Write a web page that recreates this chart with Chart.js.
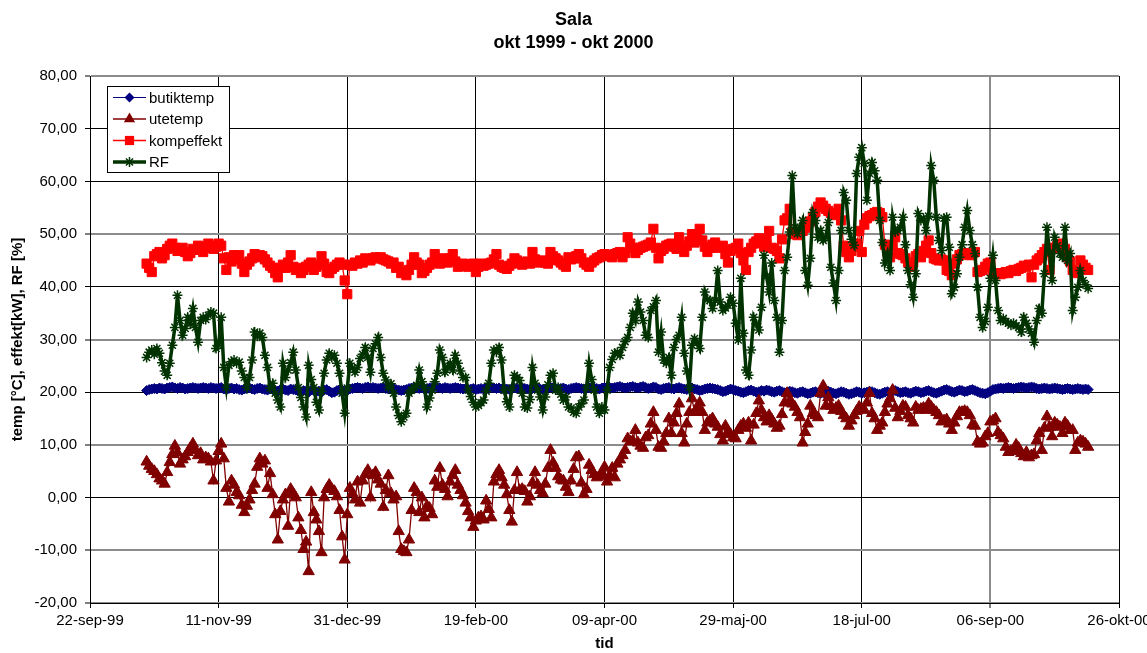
<!DOCTYPE html>
<html>
<head>
<meta charset="utf-8">
<title>Sala okt 1999 - okt 2000</title>
<script src="https://cdn.jsdelivr.net/npm/chart.js@4/dist/chart.umd.min.js"></script>
<style>
  html, body { margin: 0; padding: 0; background: #fff; }
  canvas { display: block; }
</style>
</head>
<body>
<canvas id="chart" width="1147" height="653"></canvas>
<script>
const FONT = '"Liberation Sans", Arial, Helvetica, sans-serif';

const titleLines = ['Sala', 'okt 1999 - okt 2000'];
const xAxisTitle = 'tid';
const yAxisTitle = 'temp [°C], effekt[kW], RF [%]';

// x axis: days counted from 22-sep-99, one tick every 50 days
const xTickLabels = ['22-sep-99', '11-nov-99', '31-dec-99', '19-feb-00', '09-apr-00',
                     '29-maj-00', '18-jul-00', '06-sep-00', '26-okt-00'];
const yTickLabels = ['-20,00', '-10,00', '0,00', '10,00', '20,00', '30,00',
                     '40,00', '50,00', '60,00', '70,00', '80,00'];

// first daily value is 14-okt-99 (day 22 after 22-sep-99), last is 14-okt-00
const firstDay = 22;

const seriesNames = ['butiktemp', 'utetemp', 'kompeffekt', 'RF'];

const butiktemp = [
  20.3, 20.5, 20.6, 20.7, 20.6, 20.8, 20.7, 20.6, 20.8, 20.9,
  21.0, 20.8, 20.7, 20.9, 20.8, 20.6, 20.7, 20.8, 20.9, 20.8,
  20.7, 20.8, 20.9, 20.8, 20.7, 20.9, 20.8, 20.7, 20.8, 20.9,
  20.6, 20.5, 20.7, 20.8, 20.6, 20.7, 20.5, 20.4, 20.6, 20.7,
  20.8, 20.6, 20.5, 20.7, 20.8, 20.6, 20.5, 20.4, 20.6, 20.5,
  20.3, 20.2, 20.5, 20.6, 20.4, 20.3, 20.6, 20.5, 20.4, 20.2,
  20.1, 20.3, 20.2, 20.0, 20.4, 20.3, 20.1, 20.2, 20.0, 20.4,
  20.5, 20.2, 19.9, 20.0, 20.3, 20.5, 20.4, 20.2, 20.3, 20.6,
  20.7, 20.8, 20.9, 20.8, 20.7, 20.9, 21.0, 20.8, 20.9, 20.8,
  20.7, 20.8, 20.9, 20.7, 20.6, 20.8, 20.7, 20.5, 20.4, 20.3,
  20.4, 20.5, 20.7, 20.8, 20.9, 20.8, 20.7, 20.8, 20.6, 20.7,
  20.8, 20.9, 21.0, 20.9, 20.8, 20.7, 20.9, 20.8, 20.7, 20.8,
  20.9, 20.8, 20.7, 20.6, 20.7, 20.5, 20.6, 20.7, 20.5, 20.6,
  20.7, 20.6, 20.8, 20.7, 20.9, 20.8, 20.7, 20.8, 20.6, 20.7,
  20.6, 20.5, 20.7, 20.8, 20.7, 20.6, 20.8, 20.7, 20.6, 20.5,
  20.7, 20.8, 20.7, 20.6, 20.5, 20.6, 20.8, 20.9, 20.8, 20.7,
  20.6, 20.7, 20.8, 20.6, 20.5, 20.7, 20.8, 20.9, 20.8, 20.7,
  20.6, 20.7, 20.8, 20.9, 20.8, 20.7, 20.6, 20.8, 20.9, 21.0,
  20.9, 20.8, 20.9, 21.0, 21.1, 20.9, 20.8, 20.9, 21.0, 21.1,
  20.9, 20.8, 21.0, 21.1, 20.9, 20.7, 20.8, 21.0, 20.9, 20.6,
  20.5, 20.7, 20.8, 20.9, 20.7, 20.6, 20.8, 20.9, 20.7, 20.6,
  20.5, 20.7, 20.8, 20.6, 20.5, 20.3, 20.4, 20.6, 20.7, 20.8,
  20.7, 20.6, 20.5, 20.3, 20.1, 20.2, 20.4, 20.6, 20.5, 20.3,
  20.2, 20.0, 19.9, 20.1, 20.3, 20.4, 20.2, 20.0, 20.1, 20.3,
  20.2, 20.4, 20.3, 20.1, 20.0, 20.2, 20.3, 20.1, 19.9, 20.0,
  20.2, 20.1, 19.9, 19.8, 20.0, 20.1, 19.9, 19.7, 19.8, 20.0,
  20.1, 19.9, 19.8, 19.9, 20.1, 20.2, 20.0, 19.8, 19.7, 19.9,
  20.1, 20.0, 19.8, 19.6, 19.7, 19.9, 20.1, 20.0, 19.8, 19.9,
  20.0, 20.2, 20.1, 19.9, 19.7, 19.6, 19.8, 20.0, 20.1, 19.9,
  20.2, 20.3, 20.1, 19.9, 20.0, 20.1, 19.9, 19.8, 20.0, 20.2,
  20.1, 19.9, 20.0, 20.2, 20.3, 20.1, 19.9, 19.8, 20.0, 20.2,
  20.4, 20.5, 20.3, 20.1, 20.0, 20.2, 20.4, 20.3, 20.1, 20.2,
  20.4, 20.5, 20.3, 20.1, 19.9, 19.8, 19.7, 19.9, 20.2, 20.5,
  20.6, 20.7, 20.8, 20.7, 20.8, 20.9, 20.8, 20.7, 20.8, 20.9,
  21.0, 20.9, 20.8, 20.9, 21.0, 20.9, 20.7, 20.6, 20.7, 20.8,
  20.7, 20.6, 20.7, 20.8, 20.7, 20.6, 20.5, 20.6, 20.7, 20.6,
  20.5, 20.6, 20.7, 20.6, 20.5, 20.6, 20.5
];

const utetemp = [
  6.8, 6.0, 5.4, 5.0, 4.4, 3.6, 3.2, 2.6, 4.8, 6.7,
  8.2, 9.8, 8.5, 6.4, 7.2, 7.8, 8.6, 9.4, 10.2, 9.0,
  8.0, 8.4, 7.2, 7.6, 7.4, 6.8, 3.2, 7.0, 8.8, 10.2,
  7.4, 1.8, -0.8, 3.2, 2.4, 1.0, 0.4, -1.4, -2.8, -1.6,
  -0.4, 1.4, 2.6, 5.8, 7.4, 6.4, 7.0, 1.8, 4.6, 0.6,
  -3.2, -8.0, -2.6, -0.4, 0.6, -5.4, 1.6, 0.8, 0.0, -3.8,
  -6.2, -9.8, -8.4, -14.0, 1.0, -2.8, -4.2, -6.4, -10.4, 0.0,
  1.6, 2.4, 1.6, 1.2, 0.2, -2.4, -7.4, -11.8, -3.2, 1.8,
  0.8, -0.4, 3.0, -1.0, 3.2, 4.4, 5.2, 0.0, 4.2, 4.8,
  3.4, 2.6, -1.8, 1.4, 4.2, 0.8, -0.4, 0.2, -6.4, -9.8,
  -10.2, -10.4, -8.0, -2.4, 1.8, 1.0, -2.8, 0.0, -3.8, -1.6,
  -2.0, -3.2, 3.2, 2.0, 5.6, 2.4, 1.6, 0.2, 3.0, 4.2,
  5.2, 2.4, 1.4, 0.4, -1.0, -2.6, -3.8, -5.6, -4.4, -3.8,
  -3.6, -4.2, -0.6, -2.2, -3.8, 3.0, 4.4, 5.2, 3.8, 2.4,
  0.6, -2.4, -4.6, 1.4, 4.8, 1.4, 1.6, 1.2, -0.8, 0.2,
  2.8, 4.8, 2.4, 1.4, 0.8, 2.6, 5.6, 9.0, 6.6, 5.6,
  4.0, 3.4, 3.2, 2.0, 1.0, 3.2, 5.4, 7.6, 7.8, 2.8,
  0.6, 1.6, 6.2, 5.2, 4.4, 3.8, 4.0, 4.6, 5.8, 3.0,
  4.2, 5.6, 3.8, 6.4, 7.2, 8.0, 9.0, 11.2, 10.6, 10.8,
  12.8, 10.4, 9.8, 9.4, 11.4, 11.8, 14.0, 16.2, 12.8, 9.6,
  9.4, 10.6, 12.2, 15.0, 12.2, 14.2, 16.0, 17.8, 12.2, 10.4,
  14.0, 16.2, 18.8, 16.2, 17.0, 18.0, 16.2, 12.8, 14.2, 14.6,
  15.0, 14.0, 13.4, 12.0, 10.8, 13.6, 12.4, 12.0, 11.4, 11.2,
  12.8, 13.6, 14.0, 13.2, 14.2, 10.8, 13.8, 16.0, 18.4, 16.6,
  15.2, 14.4, 15.6, 14.8, 14.0, 13.2, 13.6, 15.8, 18.0, 19.8,
  18.4, 17.8, 17.2, 16.2, 15.2, 10.4, 12.4, 14.0, 17.4, 16.0,
  15.6, 15.2, 19.8, 21.2, 17.4, 19.0, 17.4, 16.6, 17.0, 17.4,
  16.4, 15.6, 15.0, 13.6, 14.6, 15.6, 16.4, 17.2, 16.8, 16.6,
  18.0, 19.8, 16.0, 15.0, 12.8, 13.6, 14.2, 16.2, 17.8, 18.8,
  20.4, 17.0, 15.2, 16.4, 17.4, 17.2, 15.6, 15.0, 14.2, 17.2,
  16.6, 16.8, 17.0, 16.6, 17.8, 17.2, 16.6, 16.2, 15.6, 14.4,
  14.6, 14.8, 14.0, 12.8, 14.2, 15.4, 16.2, 16.2, 16.4, 16.2,
  15.6, 13.8, 13.6, 10.6, 10.2, 10.4, 11.6, 12.2, 14.4, 14.6,
  15.0, 12.4, 11.8, 11.2, 9.6, 8.6, 8.8, 9.0, 10.0, 9.4,
  8.4, 7.8, 8.6, 7.6, 8.0, 8.2, 10.8, 12.2, 9.0, 13.2,
  15.4, 13.4, 11.6, 14.2, 13.8, 13.4, 12.2, 14.2, 13.6, 12.8,
  12.8, 9.0, 10.4, 10.8, 10.6, 10.2, 9.6
];

const kompeffekt = [
  44.4, 43.6, 42.8, 45.8, 46.2, 46.6, 45.4, 46.0, 47.2, 47.8,
  48.2, 47.4, 46.8, 47.2, 47.4, 46.6, 45.8, 46.4, 47.2, 47.0,
  47.8, 47.6, 46.6, 47.4, 48.2, 47.8, 47.2, 47.6, 48.2, 47.8,
  45.4, 43.2, 45.6, 44.8, 46.0, 45.2, 46.0, 44.4, 42.8, 44.2,
  44.8, 45.4, 46.2, 45.6, 46.0, 45.8, 45.2, 44.6, 44.0, 43.6,
  42.6, 41.8, 43.6, 44.2, 43.6, 44.6, 46.0, 43.8, 43.2, 43.6,
  42.6, 43.2, 43.8, 44.2, 44.6, 43.2, 43.8, 44.2, 45.8, 44.4,
  42.8, 42.6, 43.4, 43.8, 44.2, 44.6, 44.2, 41.2, 38.6, 44.2,
  44.0, 44.6, 44.4, 45.0, 44.6, 45.4, 45.2, 45.0, 45.4, 45.6,
  45.4, 45.6, 45.2, 45.0, 44.8, 44.4, 44.6, 43.6, 43.8, 42.6,
  42.8, 42.2, 43.2, 44.2, 45.6, 44.6, 44.2, 42.6, 43.0, 43.6,
  44.2, 44.6, 46.2, 45.0, 44.4, 45.4, 45.0, 44.6, 45.4, 46.2,
  44.8, 43.8, 44.2, 44.4, 44.0, 43.8, 44.2, 44.4, 42.8, 43.8,
  44.4, 44.0, 44.2, 44.4, 44.6, 45.2, 46.2, 44.2, 43.8, 43.6,
  43.4, 44.0, 44.4, 45.4, 45.0, 44.6, 44.2, 44.6, 44.8, 44.4,
  46.6, 45.2, 44.6, 44.8, 45.0, 44.6, 44.4, 46.6, 45.8, 45.4,
  45.0, 44.6, 44.2, 43.8, 45.6, 45.2, 45.4, 45.8, 46.2, 45.4,
  44.6, 44.2, 43.8, 44.6, 45.0, 45.4, 45.6, 46.0, 46.2, 45.8,
  46.0, 45.6, 46.2, 46.4, 46.6, 45.6, 46.4, 49.4, 48.2, 47.4,
  46.4, 47.0, 47.4, 47.6, 47.8, 48.0, 48.4, 51.0, 47.4, 45.4,
  46.8, 47.2, 47.8, 48.0, 48.2, 47.6, 47.2, 49.4, 47.8, 46.6,
  47.8, 48.6, 50.0, 48.4, 49.6, 51.0, 48.8, 47.6, 46.6, 47.4,
  48.0, 48.4, 47.4, 47.6, 47.8, 46.2, 44.6, 46.8, 47.2, 47.4,
  48.2, 46.4, 45.0, 43.2, 46.6, 47.4, 48.2, 48.6, 49.2, 48.4,
  47.6, 48.8, 50.6, 47.4, 47.2, 46.8, 45.4, 49.0, 52.6, 53.0,
  54.8, 50.4, 50.0, 49.8, 50.2, 50.6, 51.2, 51.6, 52.4, 53.2,
  54.2, 55.2, 56.0, 55.4, 54.8, 54.4, 54.0, 53.8, 53.6, 54.8,
  52.6, 47.8, 46.6, 45.6, 46.8, 47.6, 48.2, 50.6, 46.6, 51.8,
  53.0, 53.4, 53.6, 54.0, 54.2, 54.0, 53.2, 48.0, 46.6, 45.6,
  47.8, 49.4, 46.4, 46.2, 46.0, 45.4, 44.6, 43.8, 44.6, 45.8,
  46.2, 45.6, 46.8, 47.8, 48.8, 46.4, 45.4, 45.2, 45.0, 45.2,
  45.0, 43.2, 43.0, 42.2, 44.4, 45.2, 46.0, 46.2, 46.4, 46.2,
  46.0, 46.2, 46.6, 42.8, 43.0, 43.2, 43.8, 44.4, 44.6, 42.6,
  42.4, 42.6, 42.4, 42.6, 42.8, 42.6, 43.0, 43.2, 43.0, 43.4,
  43.6, 44.0, 43.8, 44.2, 41.8, 44.2, 45.0, 45.4, 46.0, 46.6,
  47.2, 43.2, 47.2, 47.4, 47.8, 47.6, 48.2, 47.2, 45.6, 44.8,
  43.2, 42.8, 42.6, 45.0, 44.2, 43.6, 43.2
];

const RF = [
  26.6, 27.6, 28.0, 27.2, 28.3, 27.4, 25.6, 24.0, 23.2, 25.5,
  28.9, 32.3, 38.4, 33.6, 30.8, 32.1, 34.2, 33.0, 35.9, 32.3,
  29.5, 33.6, 34.2, 33.8, 34.6, 35.2, 35.0, 28.3, 28.9, 34.2,
  24.7, 20.9, 25.1, 25.8, 26.1, 25.5, 25.7, 24.0, 22.8, 20.9,
  22.8, 26.1, 31.4, 30.6, 31.2, 30.4, 27.0, 24.7, 20.8, 21.7,
  19.8, 18.5, 17.2, 25.5, 22.8, 24.2, 25.6, 27.6, 24.2, 20.9,
  19.0, 17.2, 15.3, 25.1, 22.4, 20.9, 18.1, 16.6, 20.2, 23.6,
  26.1, 27.4, 26.6, 27.0, 25.5, 23.6, 19.8, 16.0, 20.8, 25.5,
  24.6, 23.8, 24.7, 26.4, 27.2, 28.5, 26.6, 23.8, 28.3, 29.2,
  30.4, 26.6, 23.6, 22.3, 20.9, 21.6, 19.8, 17.2, 15.6, 14.4,
  15.3, 16.0, 19.8, 20.4, 20.9, 21.3, 24.2, 22.0, 20.9, 17.2,
  18.9, 20.4, 22.0, 23.6, 28.0, 26.6, 23.8, 24.8, 25.5, 24.2,
  27.0, 25.5, 24.0, 22.8, 22.8, 20.4, 19.2, 18.1, 17.2, 17.5,
  18.0, 18.5, 20.2, 21.7, 25.5, 28.0, 27.6, 28.5, 26.1, 20.4,
  18.2, 17.2, 20.8, 23.2, 22.8, 22.2, 19.8, 17.2, 17.0, 18.6,
  24.7, 21.7, 20.4, 19.1, 16.6, 19.1, 21.4, 23.2, 23.6, 20.4,
  20.9, 19.6, 18.5, 19.1, 17.2, 17.0, 16.2, 16.0, 17.2, 17.8,
  18.5, 20.9, 25.5, 22.4, 20.4, 17.2, 16.0, 17.2, 16.6, 20.4,
  24.7, 26.2, 27.4, 27.6, 27.0, 28.5, 29.6, 30.4, 32.3, 35.0,
  33.6, 37.1, 35.2, 33.6, 30.8, 30.4, 35.5, 36.2, 37.4, 27.6,
  31.4, 26.1, 25.5, 26.6, 23.2, 28.5, 30.0, 30.8, 34.2, 27.4,
  24.0, 20.9, 28.9, 30.2, 29.4, 28.3, 34.2, 39.0, 37.6, 37.4,
  35.9, 37.4, 43.1, 37.1, 35.5, 36.0, 36.5, 38.0, 36.9, 33.1,
  29.9, 41.6, 31.2, 24.2, 23.2, 28.0, 34.2, 33.0, 31.8, 36.1,
  46.0, 42.0, 39.0, 44.5, 37.4, 34.2, 27.6, 33.6, 43.1, 45.6,
  50.4, 61.1, 51.3, 50.1, 51.3, 52.6, 43.1, 40.3, 45.4, 54.1,
  52.6, 49.4, 50.7, 48.8, 49.4, 52.2, 43.7, 40.7, 37.4, 43.1,
  50.7, 57.9, 56.4, 50.7, 49.0, 47.9, 61.5, 64.6, 66.4, 63.4,
  56.4, 61.5, 63.6, 62.0, 60.2, 52.6, 48.4, 44.5, 46.3, 43.1,
  53.2, 50.4, 50.7, 51.3, 53.2, 48.0, 43.1, 40.4, 38.0, 42.5,
  53.9, 52.6, 53.0, 50.7, 53.4, 63.0, 60.2, 53.2, 48.8, 46.9,
  53.0, 53.2, 47.5, 38.7, 39.9, 42.5, 45.6, 48.0, 51.3, 54.5,
  50.7, 48.0, 46.3, 39.9, 34.2, 32.3, 33.4, 36.1, 41.6, 46.0,
  41.2, 35.5, 33.6, 34.0, 33.4, 33.1, 32.7, 33.1, 32.6, 32.3,
  31.4, 34.2, 33.1, 32.0, 31.2, 29.5, 33.6, 35.9, 35.0, 42.5,
  51.3, 46.5, 41.2, 49.4, 47.8, 46.3, 45.6, 51.3, 45.0, 46.3,
  35.5, 38.0, 39.9, 43.1, 41.2, 40.4, 39.7
];

// daily values -> {x: day number, y: value}
function dailyPoints(values) {
  return values.map((v, i) => ({ x: firstDay + i, y: v }));
}

// grid lines that show up lighter and wider
const softY = [80, 50, 30, 10, -10, -20];
const softX = [350];

function marker(ctx, style, x, y, r) {
  ctx.beginPath();
  if (style === 'rectRot') {
    ctx.moveTo(x, y - r); ctx.lineTo(x + r, y); ctx.lineTo(x, y + r); ctx.lineTo(x - r, y);
    ctx.closePath(); ctx.fill();
  } else if (style === 'triangle') {
    ctx.moveTo(x, y - r);
    ctx.lineTo(x + r * 0.866, y + r * 0.5);
    ctx.lineTo(x - r * 0.866, y + r * 0.5);
    ctx.closePath(); ctx.fill();
  } else if (style === 'rect') {
    const s = r * Math.SQRT1_2;
    ctx.rect(x - s, y - s, 2 * s, 2 * s); ctx.fill();
  } else if (style === 'star') {
    const d = r * Math.SQRT1_2;
    ctx.moveTo(x - r, y); ctx.lineTo(x + r, y);
    ctx.moveTo(x, y - r); ctx.lineTo(x, y + r);
    ctx.moveTo(x - d, y - d); ctx.lineTo(x + d, y + d);
    ctx.moveTo(x - d, y + d); ctx.lineTo(x + d, y - d);
    ctx.stroke();
  }
}

const headerAndLegend = {
  id: 'headerAndLegend',
  afterDraw(chart) {
    const ctx = chart.ctx;
    ctx.save();
    // title
    ctx.fillStyle = '#000';
    ctx.textAlign = 'center';
    ctx.textBaseline = 'middle';
    ctx.font = 'bold 18px ' + FONT;
    titleLines.forEach((t, i) => ctx.fillText(t, 573.5, 20 + i * 23));

    // legend box inside the plot
    const bx = 107.5, by = 86.5, bw = 122, bh = 86;
    ctx.fillStyle = '#fff';
    ctx.fillRect(bx, by, bw, bh);
    ctx.strokeStyle = '#000';
    ctx.lineWidth = 1;
    ctx.strokeRect(bx, by, bw, bh);
    ctx.textAlign = 'left';
    ctx.font = '15px ' + FONT;
    chart.data.datasets.forEach((ds, i) => {
      const cy = 97.5 + i * 21.5;
      ctx.strokeStyle = ds.borderColor;
      ctx.lineWidth = ds.borderWidth;
      ctx.beginPath();
      ctx.moveTo(113, cy); ctx.lineTo(146, cy);
      ctx.stroke();
      ctx.fillStyle = ds.pointBackgroundColor;
      ctx.strokeStyle = ds.pointBorderColor;
      ctx.lineWidth = ds.pointBorderWidth;
      marker(ctx, ds.pointStyle, 129.5, cy, ds.pointRadius);
      ctx.fillStyle = '#000';
      ctx.fillText(ds.label, 149, cy + 1);
    });
    ctx.restore();
  }
};

function series(label, values, color, style, radius, lineWidth, pointWidth, order) {
  return {
    label: label,
    data: dailyPoints(values),
    borderColor: color,
    backgroundColor: color,
    borderWidth: lineWidth,
    pointStyle: style,
    pointRadius: radius,
    pointHoverRadius: radius,
    pointBackgroundColor: color,
    pointBorderColor: color,
    pointBorderWidth: pointWidth,
    tension: 0,
    fill: false,
    order: order
  };
}

new Chart(document.getElementById('chart'), {
  type: 'line',
  data: {
    datasets: [
      series(seriesNames[0], butiktemp, '#000080', 'rectRot', 5, 1, 1, 3),
      series(seriesNames[1], utetemp, '#800000', 'triangle', 6.5, 1.3, 1, 2),
      series(seriesNames[2], kompeffekt, '#ff0000', 'rect', 6.5, 1.3, 1, 1),
      series(seriesNames[3], RF, '#003300', 'star', 5, 3.5, 1.5, 0)
    ]
  },
  options: {
    responsive: false,
    animation: false,
    devicePixelRatio: 1,
    layout: { padding: { top: 76, right: 28, bottom: 0, left: 0 } },
    plugins: {
      legend: { display: false },
      title: { display: false },
      tooltip: { enabled: false }
    },
    scales: {
      x: {
        type: 'linear',
        min: 0,
        max: 400,
        ticks: {
          stepSize: 50,
          autoSkip: false,
          maxRotation: 0,
          minRotation: 0,
          padding: 4,
          color: '#000',
          font: { family: FONT, size: 15 },
          callback: (v) => xTickLabels[Math.round(v / 50)]
        },
        grid: {
          color: (c) => (c.tick && softX.includes(c.tick.value)) ? '#8c8c8c' : '#000',
          lineWidth: (c) => (c.tick && softX.includes(c.tick.value)) ? 2 : 1,
          tickLength: 5,
          tickColor: '#000',
          tickWidth: 1
        },
        border: { color: '#000', width: 1 },
        title: {
          display: true,
          text: xAxisTitle,
          color: '#000',
          font: { family: FONT, size: 15, weight: 'bold' },
          padding: { top: 0, bottom: 0 }
        },
        afterFit: (s) => { s.height = 50; s.paddingLeft = 0; s.paddingRight = 0; }
      },
      y: {
        type: 'linear',
        min: -20,
        max: 80,
        ticks: {
          stepSize: 10,
          padding: 8,
          color: '#000',
          font: { family: FONT, size: 15 },
          callback: (v) => yTickLabels[Math.round((v + 20) / 10)]
        },
        grid: {
          color: (c) => (c.tick && softY.includes(c.tick.value)) ? '#8c8c8c' : '#000',
          lineWidth: (c) => (c.tick && softY.includes(c.tick.value)) ? 2 : 1,
          tickLength: 5,
          tickColor: '#000',
          tickWidth: 1
        },
        border: { color: '#000', width: 1 },
        title: {
          display: true,
          text: yAxisTitle,
          color: '#000',
          font: { family: FONT, size: 15, weight: 'bold' },
          padding: { top: 9, bottom: 0 }
        },
        afterFit: (s) => { s.width = 90; s.paddingTop = 0; s.paddingBottom = 0; }
      }
    }
  },
  plugins: [headerAndLegend]
});
</script>
</body>
</html>
